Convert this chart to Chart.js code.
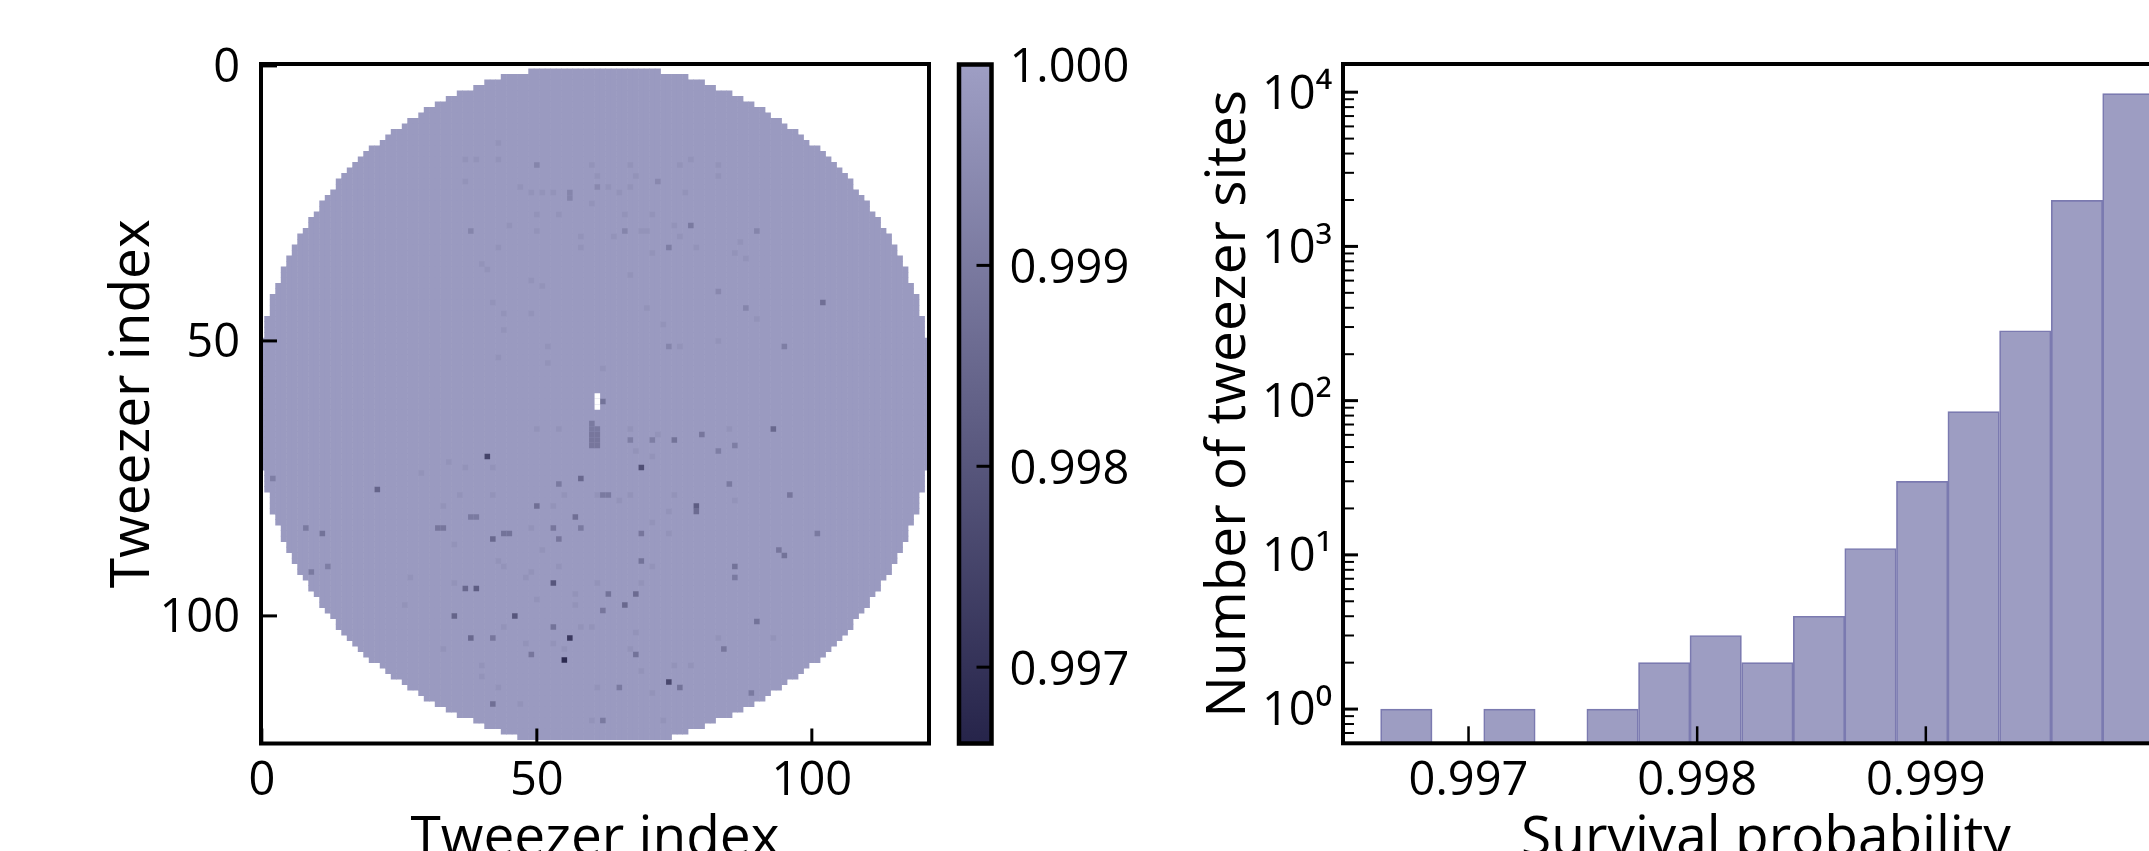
<!DOCTYPE html>
<html>
<head>
<meta charset="utf-8">
<script src="https://cdn.jsdelivr.net/npm/chart.js@4"></script>
<style>
  html, body { margin: 0; width: 2149px; height: 851px; overflow: hidden; background: #fff; }
  canvas { position: absolute; top: 0; }
</style>
</head>
<body>
<canvas id="mapChart" width="945" height="900" style="left:0"></canvas>
<canvas id="barChart" width="205" height="900" style="left:945px"></canvas>
<canvas id="histChart" width="1009" height="900" style="left:1180px"></canvas>
<script>
// first filled column of each tweezer row
const firstRow = 1;
const rowStarts = [
  49,44,41,39,36,34,32,30,29,27,26,24,23,22,20,19,18,17,16,15,14,14,13,12,11,11,10,9,9,8,
  7,7,6,6,5,5,4,4,4,3,3,2,2,2,2,1,1,1,1,0,0,0,0,0,0,0,0,0,0,0,0,
  0,0,0,0,0,0,0,0,0,0,0,0,1,1,1,1,2,2,2,2,3,3,4,4,4,5,5,6,6,7,7,
  8,9,9,10,11,11,12,13,14,14,15,16,17,18,19,20,22,23,24,26,27,29,30,32,34,36,39,41,44,47
];
const baseSurvival = 0.9999;
// [column, row, survival] for the sites that stand out from the background
const lowSites = [
  [41,71,.9975],[69,73,.9978],[62,61,.9988],[60,65,.9990],[60,67,.9989],[61,67,.9989],[60,68,.9989],[61,68,.9989],
  [60,69,.9989],[61,69,.9989],[60,66,.9990],[61,66,.9990],[93,66,.9985],[75,68,.9988],[80,67,.9989],[71,68,.9991],
  [67,68,.9991],[83,70,.9991],[86,69,.9991],[58,75,.9985],[54,76,.9990],[85,76,.9990],[79,80,.9982],[79,81,.9986],
  [50,80,.9987],[57,82,.9987],[38,82,.9990],[39,82,.9990],[32,84,.9989],[33,84,.9989],[53,84,.9989],[58,84,.9990],
  [44,85,.9988],[45,85,.9988],[42,86,.9985],[54,86,.9989],[69,85,.9989],[69,90,.9988],[94,88,.9989],[86,91,.9988],
  [86,93,.9990],[53,94,.9980],[39,95,.9982],[37,95,.9985],[63,96,.9988],[68,96,.9986],[66,98,.9985],[46,100,.9980],
  [35,100,.9984],[53,102,.9988],[56,104,.9972],[38,104,.9985],[42,104,.9989],[55,108,.9968],[49,107,.9989],[68,107,.9988],
  [74,112,.9976],[76,113,.9988],[65,113,.9990],[42,116,.9987],[90,101,.9988],[84,106,.9989],[89,114,.9990],[62,119,.9990],
  [62,99,.9989],[62,78,.9990],[63,78,.9990],[21,77,.9984],[11,85,.9988],[8,84,.9990],[9,92,.9990],[2,75,.9991],
  [12,91,.9991],[102,43,.9987],[96,78,.9989],[101,85,.9990],[95,51,.9991],[95,89,.9988],[50,18,.9993],[56,23,.9993],
  [56,24,.9993],[78,29,.9990],[74,33,.9991],[38,30,.9993],[88,44,.9993],[61,22,.9994],[72,21,.9994],[83,41,.9994],
  [74,51,.9993],[90,30,.9993],[66,30,.9993]
];
// fainter speckle picked out of the crops
const faintValue = 0.9997;
const faintSites = [
  [43,14],[37,17],[39,17],[43,17],[60,18],[67,18],[76,18],[78,17],[83,18],[61,20],[68,20],[83,20],[37,21],[63,22],[67,22],
  [47,22],[51,23],[53,23],[49,23],[65,23],[77,23],[60,25],[54,27],[66,27],[50,27],[71,27],[45,29],[50,30],[69,30],[70,30],
  [75,29],[58,31],[64,31],[76,31],[43,33],[58,33],[79,33],[86,34],[71,34],[40,36],[41,37],[87,32],[88,35],[51,40],[67,38],
  [49,39],[42,43],[70,44],[49,45],[44,45],[73,47],[90,46],[44,48],[52,51],[76,51],[83,50],[62,55],[52,54],[43,53],
  [42,73],[37,73],[34,72],[29,74],[50,66],[54,66],[68,70],[71,71],[67,66],[72,67],[85,66],[42,78],[36,78],[33,80],[53,80],
  [55,78],[65,79],[61,78],[67,78],[75,78],[86,79],[74,81],[49,84],[71,83],[74,85],[35,87],[51,88],[43,90],[44,91],[54,91],
  [71,91],[49,92],[48,93],[27,93],[35,94],[61,94],[69,94],[57,96],[26,98],[50,97],[57,98],[44,102],[53,105],[48,105],[55,106],
  [60,102],[58,102],[68,103],[83,104],[67,106],[75,109],[78,109],[69,110],[40,111],[43,113],[61,113],[71,114],[33,106],
  [40,109],[93,104],[47,116],[60,119],[73,119]
];
const deadColumn = [61, 61, 61];
const deadRows = [60, 61, 62];
const mapTicks = [0, 50, 100];

const barTicks = [1.000, 0.999, 0.998, 0.997];
const barRange = [0.99662, 1.0];

const binCenters = [0.996728,0.996953,0.997179,0.997405,0.997630,0.997856,0.998081,0.998307,0.998533,0.998758,0.998984,0.999209,0.999435,0.999661,0.999886];
const siteCounts = [1,null,1,null,1,2,3,2,4,11,30,85,284,1990,9800];
const histXTicks = [0.997, 0.998, 0.999];
const histYTicks = [1, 10, 100, 1000, 10000];
const histYMinor = [0.7,0.8,0.9,2,3,4,5,6,7,8,9,20,30,40,50,60,70,80,90,200,300,400,500,600,700,800,900,2000,3000,4000,5000,6000,7000,8000,9000];
const powerLabels = {1: "10⁰", 10: "10¹", 100: "10²", 1000: "10³", 10000: "10⁴"};

const topRgb = [158, 158, 196];
const bottomRgb = [38, 36, 74];
const fontName = '"Open Sans", sans-serif';
const tickFont = { family: fontName, size: 47 };
const titleFont = { family: fontName, size: 55 };

function survivalColor(v) {
  const t = (1 - v) / (barRange[1] - barRange[0]);
  const c = topRgb.map((top, i) => Math.round(top + (bottomRgb[i] - top) * t));
  return `rgb(${c[0]},${c[1]},${c[2]})`;
}

// black frame and ticks that point into the plot
const framePlugin = {
  id: "framePlugin",
  afterDraw(chart, args, opts) {
    const { ctx, chartArea: a } = chart;
    ctx.save();
    ctx.strokeStyle = "#000";
    ctx.lineWidth = opts.frameWidth;
    ctx.strokeRect(a.left, a.top, a.right - a.left, a.bottom - a.top);
    opts.marks.forEach((m) => {
      const scale = chart.scales[m.axis];
      ctx.lineWidth = m.width;
      m.values.forEach((v) => {
        const p = scale.getPixelForValue(v);
        ctx.beginPath();
        if (m.axis === "x") {
          ctx.moveTo(p, a.bottom);
          ctx.lineTo(p, a.bottom - m.len);
        } else if (m.right) {
          ctx.moveTo(a.right, p);
          ctx.lineTo(a.right - m.len, p);
        } else {
          ctx.moveTo(a.left, p);
          ctx.lineTo(a.left + m.len, p);
        }
        ctx.stroke();
      });
    });
    ctx.restore();
  },
};

function setTicks(values) {
  return (scale) => { scale.ticks = values.map((v) => ({ value: v })); };
}
function fitWidth(w) { return (scale) => { scale.width = w; }; }
function fitHeight(h) { return (scale) => { scale.height = h; }; }
const noGrid = { display: false, drawTicks: false };

// Tweezer map
const baseCells = [];
rowStarts.forEach((start, i) => {
  for (let col = start; col <= 121 - start; col++) baseCells.push({ x: col, y: firstRow + i });
});
new Chart(document.getElementById("mapChart"), {
  type: "scatter",
  data: {
    datasets: [
      {
        order: 4, data: baseCells, pointStyle: "rect", pointRadius: 4.3, borderWidth: 0,
        backgroundColor: survivalColor(baseSurvival),
      },
      {
        order: 3, data: faintSites.map((s) => ({ x: s[0], y: s[1] })),
        pointStyle: "rect", pointRadius: 3.92, borderWidth: 0,
        backgroundColor: survivalColor(faintValue),
      },
      {
        order: 2, data: lowSites.map((s) => ({ x: s[0], y: s[1] })),
        pointStyle: "rect", pointRadius: 3.92, borderWidth: 0,
        backgroundColor: lowSites.map((s) => survivalColor(s[2])),
      },
      {
        order: 1, data: deadRows.map((r, i) => ({ x: deadColumn[i], y: r })),
        pointStyle: "rect", pointRadius: 3.92, borderWidth: 0, backgroundColor: "#fff",
      },
    ],
  },
  options: {
    responsive: false, animation: false, events: [],
    layout: { padding: { top: 64, right: 16 } },
    plugins: {
      legend: { display: false }, tooltip: { enabled: false },
      framePlugin: {
        frameWidth: 4,
        marks: [
          { axis: "x", values: mapTicks, len: 15, width: 3 },
          { axis: "y", values: mapTicks, len: 16, width: 3 },
        ],
      },
    },
    scales: {
      x: {
        type: "linear", min: -0.15, max: 121.3,
        grid: noGrid, border: { display: false },
        afterBuildTicks: setTicks(mapTicks), afterFit: fitHeight(156.5),
        ticks: { font: tickFont, color: "#000", padding: 10, autoSkip: false, maxRotation: 0 },
        title: { display: true, text: "Tweezer index", font: titleFont, color: "#000", padding: { top: 0, bottom: 28 } },
      },
      y: {
        type: "linear", min: -0.35, max: 123.2, reverse: true,
        grid: noGrid, border: { display: false },
        afterBuildTicks: setTicks(mapTicks), afterFit: fitWidth(261),
        ticks: { font: tickFont, color: "#000", padding: 21, autoSkip: false, labelOffset: 3 },
        title: { display: true, text: "Tweezer index", font: titleFont, color: "#000", padding: { top: 100, bottom: 0 } },
      },
    },
  },
  plugins: [framePlugin],
});

// Colour bar
new Chart(document.getElementById("barChart"), {
  type: "bar",
  data: {
    labels: [""],
    datasets: [{
      data: [barRange],
      barPercentage: 1, categoryPercentage: 1,
      backgroundColor(ctx) {
        const a = ctx.chart.chartArea;
        if (!a) return survivalColor(1);
        const g = ctx.chart.ctx.createLinearGradient(0, a.top, 0, a.bottom);
        g.addColorStop(0, survivalColor(barRange[1]));
        g.addColorStop(1, survivalColor(barRange[0]));
        return g;
      },
    }],
  },
  options: {
    responsive: false, animation: false, events: [],
    layout: { padding: { top: 64.5, left: 14, bottom: 156.5 } },
    plugins: {
      legend: { display: false }, tooltip: { enabled: false },
      framePlugin: {
        frameWidth: 4.5,
        marks: [{ axis: "y", values: barTicks, len: 15, width: 3, right: true }],
      },
    },
    scales: {
      x: { display: false },
      y: {
        position: "right", min: barRange[0], max: barRange[1],
        grid: noGrid, border: { display: false },
        afterBuildTicks: setTicks(barTicks), afterFit: fitWidth(158.5),
        ticks: { font: tickFont, color: "#000", padding: 18, autoSkip: false, labelOffset: 4, callback: (v) => Number(v).toFixed(3) },
      },
    },
  },
  plugins: [framePlugin],
});

// Survival histogram
new Chart(document.getElementById("histChart"), {
  type: "bar",
  data: {
    datasets: [{
      data: binCenters.map((c, i) => ({ x: c, y: siteCounts[i] })),
      barPercentage: 1, categoryPercentage: 1,
      backgroundColor: "#9d9dc2", borderColor: "#7b7ab0", borderWidth: 1.7, borderSkipped: "bottom",
    }],
  },
  options: {
    responsive: false, animation: false, events: [],
    layout: { padding: { top: 64 } },
    plugins: {
      legend: { display: false }, tooltip: { enabled: false },
      framePlugin: {
        frameWidth: 4,
        marks: [
          { axis: "x", values: histXTicks, len: 17, width: 2.5 },
          { axis: "y", values: histYTicks, len: 15, width: 3 },
          { axis: "y", values: histYMinor, len: 11, width: 2 },
        ],
      },
    },
    scales: {
      x: {
        type: "linear", min: 0.996451, max: 1.000151, offset: false,
        grid: noGrid, border: { display: false },
        afterBuildTicks: setTicks(histXTicks), afterFit: fitHeight(156.7),
        ticks: { font: tickFont, color: "#000", padding: 10, autoSkip: false, maxRotation: 0, callback: (v) => Number(v).toFixed(3) },
        title: { display: true, text: "Survival probability", font: titleFont, color: "#000", padding: { top: 0, bottom: 28 } },
      },
      y: {
        type: "logarithmic", min: 0.631, max: 15230,
        grid: noGrid, border: { display: false },
        afterBuildTicks: setTicks(histYTicks), afterFit: fitWidth(163),
        ticks: { font: tickFont, color: "#000", padding: 11, autoSkip: false, labelOffset: 3, callback: (v) => powerLabels[v] },
        title: { display: true, text: "Number of tweezer sites", font: titleFont, color: "#000", padding: { top: 16, bottom: 0 } },
      },
    },
  },
  plugins: [framePlugin],
});
</script>
</body>
</html>
